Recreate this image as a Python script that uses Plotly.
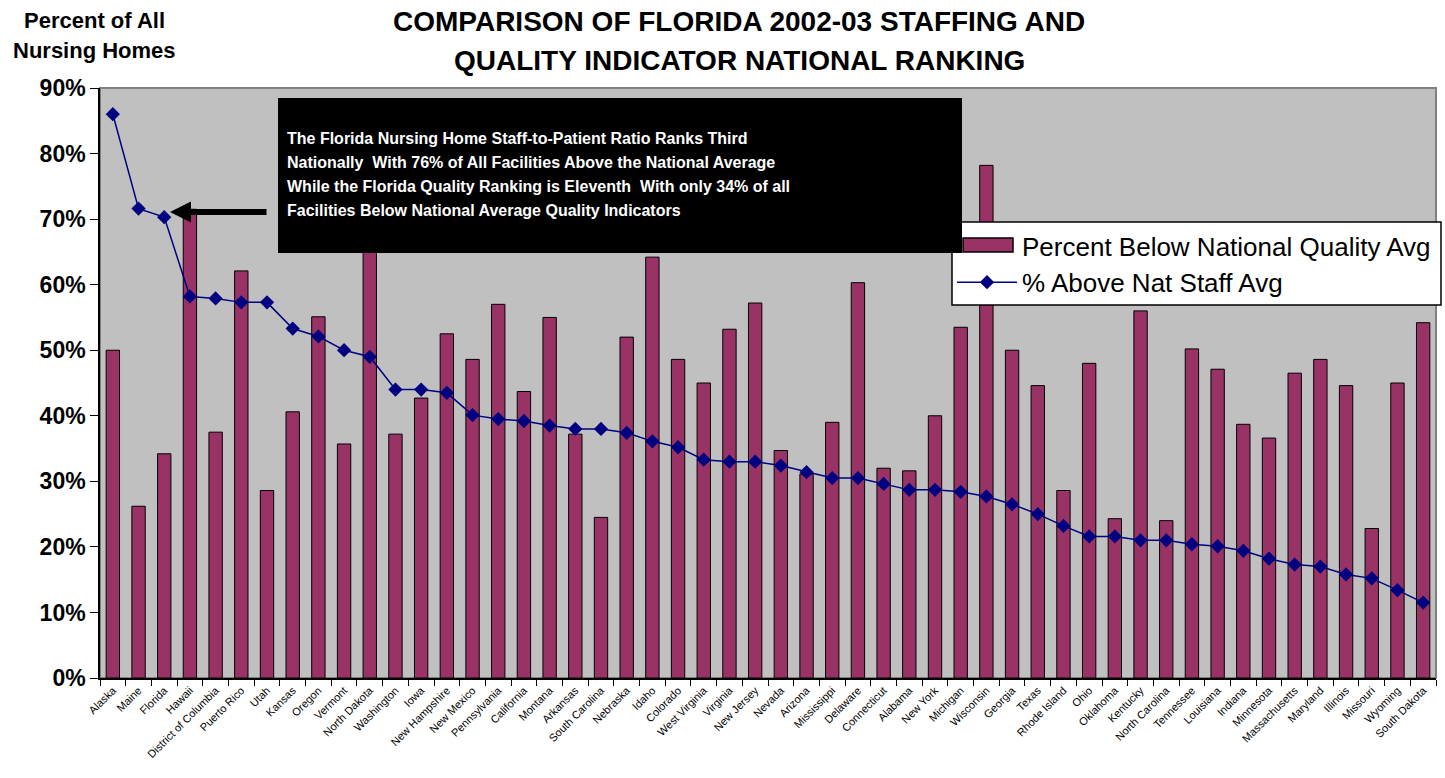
import plotly.graph_objects as go

states = [
    "Alaska", "Maine", "Florida", "Hawaii", "District of Columbia", "Puerto Rico",
    "Utah", "Kansas", "Oregon", "Vermont", "North Dakota", "Washington", "Iowa",
    "New Hampshire", "New Mexico", "Pennsylvania", "California", "Montana",
    "Arkansas", "South Carolina", "Nebraska", "Idaho", "Colorado", "West Virginia",
    "Virginia", "New Jersey", "Nevada", "Arizona", "Mississippi", "Delaware",
    "Connecticut", "Alabama", "New York", "Michigan", "Wisconsin", "Georgia",
    "Texas", "Rhode Island", "Ohio", "Oklahoma", "Kentucky", "North Carolina",
    "Tennessee", "Louisiana", "Indiana", "Minnesota", "Massachusetts", "Maryland",
    "Illinois", "Missouri", "Wyoming", "South Dakota",
]

pct_below_quality = [
    50.0, 26.2, 34.2, 71.5, 37.5, 62.1, 28.6, 40.6, 55.1, 35.7, 68.0, 37.2, 42.7,
    52.5, 48.6, 57.0, 43.7, 55.0, 37.2, 24.5, 52.0, 64.2, 48.6, 45.0, 53.2, 57.2,
    34.7, 31.1, 39.0, 60.3, 32.0, 31.6, 40.0, 53.5, 78.2, 50.0, 44.6, 28.6, 48.0,
    24.3, 56.0, 24.0, 50.2, 47.1, 38.7, 36.6, 46.5, 48.6, 44.6, 22.8, 45.0, 54.2,
]

pct_above_staff = [
    86.0, 71.6, 70.3, 58.2, 57.9, 57.3, 57.3, 53.3, 52.1, 50.0, 49.0, 44.0, 44.0,
    43.5, 40.1, 39.5, 39.2, 38.5, 38.0, 38.0, 37.4, 36.1, 35.2, 33.3, 33.0, 33.0,
    32.4, 31.4, 30.5, 30.5, 29.6, 28.7, 28.7, 28.4, 27.7, 26.5, 25.0, 23.2, 21.6,
    21.6, 21.0, 21.0, 20.4, 20.1, 19.4, 18.2, 17.3, 17.0, 15.8, 15.2, 13.4, 11.5,
]

y_ticks = [0, 10, 20, 30, 40, 50, 60, 70, 80, 90]
y_tick_labels = ["0%", "10%", "20%", "30%", "40%", "50%", "60%", "70%", "80%", "90%"]

series_names = ["Percent Below National Quality Avg", "% Above Nat Staff Avg"]
title_lines = ["COMPARISON OF FLORIDA 2002-03 STAFFING AND",
               "QUALITY INDICATOR NATIONAL RANKING"]
box_lines = [
    "The Florida Nursing Home Staff-to-Patient Ratio Ranks Third",
    "Nationally  With 76% of All Facilities Above the National Average",
    "While the Florida Quality Ranking is Eleventh  With only 34% of all",
    "Facilities Below National Average Quality Indicators",
]

FONT = "Arial, Liberation Sans, sans-serif"
BAR_COLOR = "#993366"
LINE_COLOR = "#000080"

fig = go.Figure()
fig.add_trace(go.Bar(
    x=states, y=pct_below_quality, name=series_names[0], showlegend=False,
    marker=dict(color=BAR_COLOR, line=dict(color="black", width=1)),
))
# legend entry for the bars (its wide swatch is drawn as a shape)
fig.add_trace(go.Scatter(
    x=[None], y=[None], name=series_names[0], mode="lines",
    line=dict(color="rgba(0,0,0,0)", width=0),
))
fig.add_trace(go.Scatter(
    x=states, y=pct_above_staff, name=series_names[1],
    mode="lines+markers",
    line=dict(color=LINE_COLOR, width=1.5),
    marker=dict(symbol="diamond", size=11, color=LINE_COLOR),
))

L, R, T, B = 100, 9, 88, 100
W, H = 1445, 778
pw, ph = W - L - R, H - T - B

def px_x(px):
    return (px - L) / pw

def px_y(py):
    return (H - B - py) / ph

anns = []
for text, yy in zip(title_lines, [22, 60]):
    anns.append(dict(text="<b>" + text + "</b>", xref="paper", yref="paper",
                     x=px_x(739), y=px_y(yy), xanchor="center", yanchor="middle",
                     showarrow=False, font=dict(family=FONT, size=28, color="black")))
anns.append(dict(text="<b>Percent of All</b>", xref="paper", yref="paper",
                 x=px_x(94), y=px_y(21), xanchor="center", yanchor="middle",
                 showarrow=False, font=dict(family=FONT, size=22, color="black")))
anns.append(dict(text="<b>Nursing Homes</b>", xref="paper", yref="paper",
                 x=px_x(94), y=px_y(51), xanchor="center", yanchor="middle",
                 showarrow=False, font=dict(family=FONT, size=22, color="black")))
for i, line in enumerate(box_lines):
    anns.append(dict(text="<b>" + line + "</b>", xref="paper", yref="paper",
                     x=px_x(285), y=px_y(138 + 24.3 * i), xanchor="left", yanchor="middle",
                     showarrow=False, font=dict(family=FONT, size=16, color="white")))
# arrow
anns.append(dict(text="", xref="paper", yref="paper", x=px_x(170), y=px_y(212),
                 ax=98, ay=0, showarrow=True, arrowhead=2, arrowsize=0.7,
                 arrowwidth=6, arrowcolor="black"))

shapes = [
    dict(type="rect", xref="paper", yref="paper", x0=0, x1=1, y0=0, y1=1,
         line=dict(color="#808080", width=2), layer="below"),
    # legend box
    dict(type="rect", xref="paper", yref="paper", x0=px_x(952), x1=px_x(1441),
         y0=px_y(305), y1=px_y(222), fillcolor="white",
         line=dict(color="black", width=1.5), layer="above"),
    # legend swatch for the bars
    dict(type="rect", xref="paper", yref="paper", x0=px_x(963), x1=px_x(1013),
         y0=px_y(252), y1=px_y(238), fillcolor=BAR_COLOR,
         line=dict(color="black", width=1.5), layer="above"),
    # annotation box
    dict(type="rect", xref="paper", yref="paper", x0=px_x(278), x1=px_x(962),
         y0=px_y(253), y1=px_y(98), fillcolor="black", line=dict(width=0), layer="above"),
]

fig.update_layout(
    template="none",
    width=W, height=H,
    margin=dict(l=L, r=R, t=T, b=B),
    paper_bgcolor="white",
    plot_bgcolor="#C0C0C0",
    bargap=0.48,
    showlegend=True,
    legend=dict(x=px_x(952), y=px_y(222), xanchor="left", yanchor="top",
                bgcolor="rgba(0,0,0,0)", borderwidth=0,
                itemwidth=60,
                font=dict(family=FONT, size=26, color="black")),
    annotations=anns,
    shapes=shapes,
    font=dict(family=FONT, color="black"),
)
fig.update_xaxes(
    type="category", range=[-0.5, len(states) - 0.5], automargin=False, showgrid=False,
    showline=True, linecolor="black", linewidth=1.5,
    ticks="outside", tickson="boundaries", ticklen=6, tickcolor="black",
    tickangle=-45, tickfont=dict(family=FONT, size=11, color="black"),
)
fig.update_yaxes(
    range=[0, 90], tickvals=y_ticks,
    ticktext=["<b>" + t + "</b>" for t in y_tick_labels], automargin=False,
    showgrid=False, zeroline=False,
    showline=True, linecolor="black", linewidth=1.5,
    ticks="outside", ticklen=8, tickcolor="black",
    tickfont=dict(family=FONT, size=23, color="black"),
)

fig.write_html("out.html", config={"displayModeBar": False},
               post_script="document.body.style.margin='0';")
